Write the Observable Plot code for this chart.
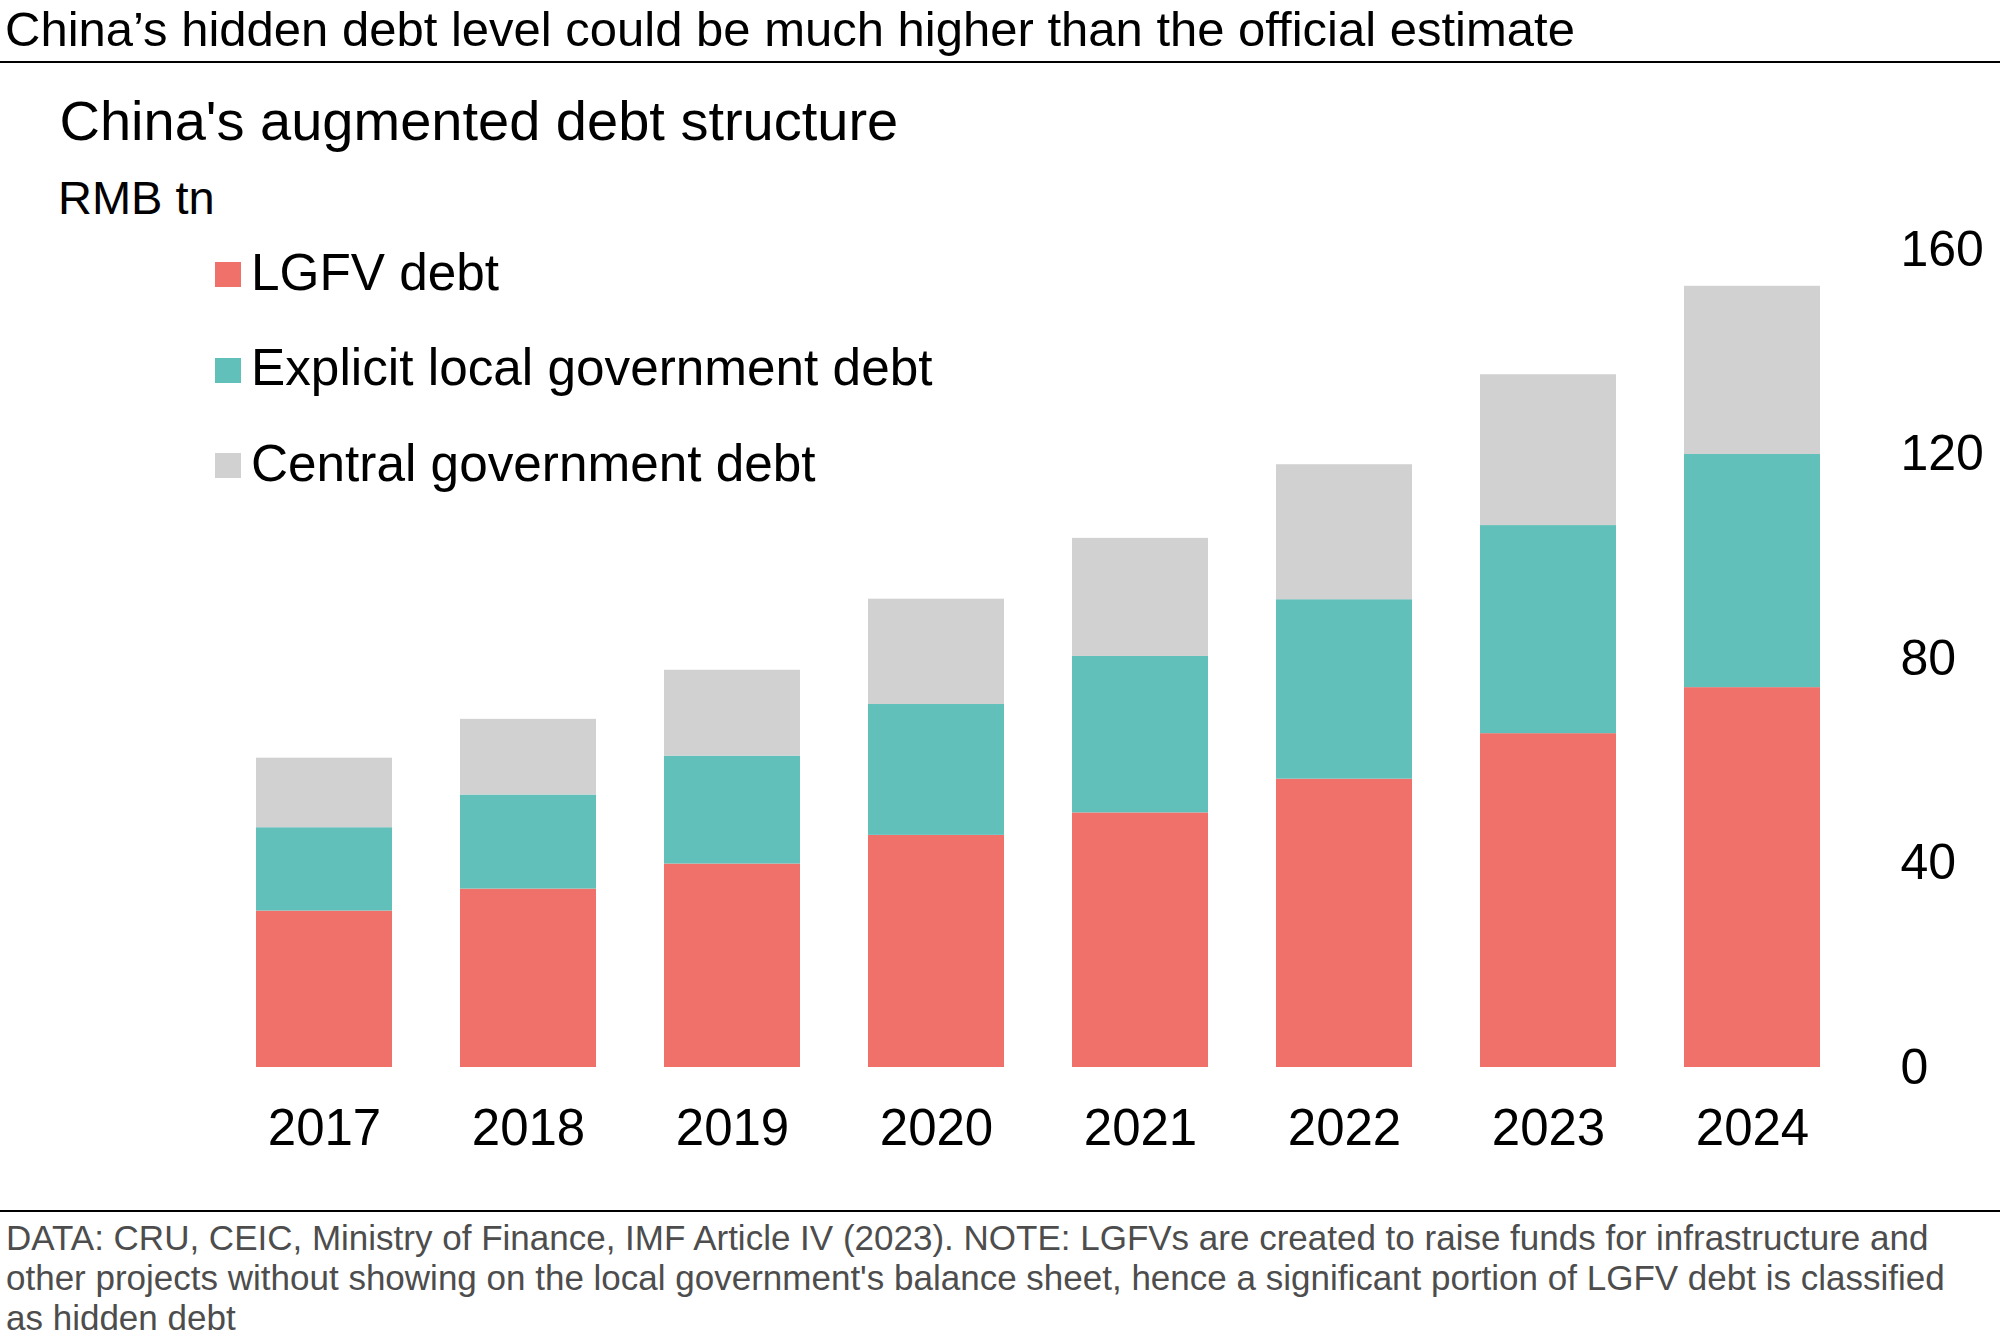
<!DOCTYPE html>
<html>
<head>
<meta charset="utf-8">
<script src="https://cdn.jsdelivr.net/npm/d3@7"></script>
<script src="https://cdn.jsdelivr.net/npm/@observablehq/plot@0.6"></script>
<style>
  html, body { margin: 0; padding: 0; background: #fff; }
  #page { position: relative; width: 2000px; height: 1338px; overflow: hidden; font-family: "Liberation Sans", Arial, sans-serif; color: #000; }
  .abs { position: absolute; white-space: nowrap; line-height: 1; }
  .rule { position: absolute; left: 0; width: 2000px; height: 2px; background: #000; }
  #chart { position: absolute; left: 0; top: 220px; }
  .sw { position: absolute; width: 26px; height: 25px; }
</style>
</head>
<body>
<div id="page">
  <div class="abs" style="left:5px; top:5px; font-size:49px;">China’s hidden debt level could be much higher than the official estimate</div>
  <div class="rule" style="top:61px;"></div>
  <div class="abs" style="left:59.5px; top:93px; font-size:56px;">China's augmented debt structure</div>
  <div class="abs" style="left:58px; top:174px; font-size:47px;">RMB tn</div>
  <div id="legend"></div>
  <div id="chart"></div>
  <div class="rule" style="top:1210px;"></div>
  <div style="position:absolute; left:6px; top:1218px; white-space:nowrap; font-size:35px; line-height:40px; color:#4d4d4d;">DATA: CRU, CEIC, Ministry of Finance, IMF Article IV (2023). NOTE: LGFVs are created to raise funds for infrastructure and<br>other projects without showing on the local government's balance sheet, hence a significant portion of LGFV debt is classified<br>as hidden debt</div>
</div>
<script>
// ---- data (RMB tn) ----
const years = ["2017", "2018", "2019", "2020", "2021", "2022", "2023", "2024"];
const lgfvDebt     = [30.6, 34.9, 39.8, 45.4, 49.8, 56.4, 65.3, 74.3];
const explicitDebt = [16.3, 18.4, 21.1, 25.6, 30.6, 35.1, 40.7, 45.6];
const centralDebt  = [13.6, 14.8, 16.8, 20.6, 23.1, 26.4, 29.5, 32.9];
const seriesNames  = ["LGFV debt", "Explicit local government debt", "Central government debt"];
const seriesColors = ["#F0716A", "#62C0BB", "#D1D1D1"];
const yTicks = [0, 40, 80, 120, 160];

const seriesValues = [lgfvDebt, explicitDebt, centralDebt];
const rows = [];
seriesNames.forEach((s, i) => {
  years.forEach((yr, j) => rows.push({year: yr, series: s, value: seriesValues[i][j]}));
});

const chart = Plot.plot({
  width: 2000,
  height: 980,
  marginTop: 29,
  marginBottom: 133,
  marginLeft: 188,
  marginRight: 112,
  style: {fontFamily: "'Liberation Sans', Arial, sans-serif", fontSize: "50px", color: "#000", background: "transparent"},
  x: {domain: years, paddingInner: 1/3, paddingOuter: 1/3, round: false, label: null, tickSize: 0, tickPadding: 41},
  y: {domain: [0, 160], ticks: yTicks, label: null, axis: "right", tickSize: 0, tickPadding: 12},
  color: {domain: seriesNames, range: seriesColors},
  marks: [
    Plot.barY(rows, {x: "year", y: "value", fill: "series"})
  ]
});
// slightly larger year labels than the value labels
chart.querySelectorAll("g[aria-label='x-axis tick label']").forEach(g => g.setAttribute("font-size", "51"));
document.getElementById("chart").appendChild(chart);

// legend (HTML), colours taken from the plot's colour scale
const color = chart.scale("color");
const legend = document.getElementById("legend");
const squareTops = [262, 357.5, 453];
const baselines = [290, 385.5, 481];
seriesNames.forEach((s, i) => {
  const sw = document.createElement("div");
  sw.className = "sw";
  sw.style.left = "215px";
  sw.style.top = squareTops[i] + "px";
  sw.style.background = color.range[i];
  legend.appendChild(sw);
  const t = document.createElement("div");
  t.className = "abs";
  t.style.left = "251px";
  t.style.fontSize = "51.3px";
  t.style.top = (baselines[i] - 0.8465 * 51.3) + "px";
  t.textContent = s;
  legend.appendChild(t);
});
</script>
</body>
</html>
